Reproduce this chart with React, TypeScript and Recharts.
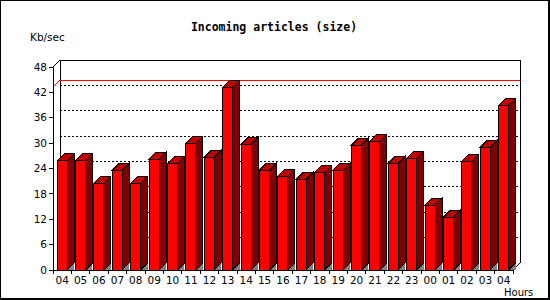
import React from 'react';
import { BarChart, Bar, XAxis, YAxis, ReferenceLine, ReferenceArea } from 'recharts';

const hours = ['04','05','06','07','08','09','10','11','12','13','14','15','16','17','18','19','20','21','22','23','00','01','02','03','04'];
const sizeKb = [25.8,25.8,20.5,23.6,20.5,26.2,25.2,30.0,26.6,43.2,29.7,23.6,22.2,21.4,23.1,23.6,29.5,30.4,25.2,26.4,15.3,12.5,25.7,29.0,38.9];
const yTicks = [0,6,12,18,24,30,36,42,48];
const gridValues = [6,12,18,24,30,36,42];

const data = hours.map((h, i) => ({ hour: h, value: sizeKb[i] }));
const maxValue = Math.max(...sizeKb);

const W = 550;
const H = 300;
const MARGIN = { top: 67, right: 37, bottom: 0, left: 13 };
const Y_AXIS_W = 40;
const X_AXIS_H = 30;
const PLOT_W = W - MARGIN.left - MARGIN.right - Y_AXIS_W;
const HALF_BAND = PLOT_W / hours.length / 2;
const DX = 7;
const DY = 7;
const FONT = '"DejaVu Sans", sans-serif';

const Bar3D = (props: any) => {
  const { x, y, width, height } = props;
  if (height == null || width == null) return null;
  const b = y + height;
  return (
    <g>
      <polygon points={`${x + width},${b} ${x + width + DX},${b - DY} ${x + width + DX},${b}`} fill="#808080" />
      <rect x={x} y={y} width={width} height={height} fill="#ff0000" stroke="#000" strokeWidth={1} />
      <polygon points={`${x},${y} ${x + DX},${y - DY} ${x + width + DX},${y - DY} ${x + width},${y}`} fill="#c00000" stroke="#000" strokeWidth={1} strokeLinejoin="miter" />
      <polygon points={`${x + width},${y} ${x + width + DX},${y - DY} ${x + width + DX},${b - DY} ${x + width},${b}`} fill="#800000" stroke="#000" strokeWidth={1} />
    </g>
  );
};

const BackWall = (props: any) => {
  const { x, y, width, height } = props;
  const b = y + height;
  return (
    <g>
      <path
        d={`M${x + DX},${b - DY} L${x + DX},${y - DY} L${x + width + DX},${y - DY} L${x + width + DX},${b - DY} L${x + width},${b}`}
        fill="none" stroke="#000" strokeWidth={1}
      />
      <path d={`M${x},${y} L${x + DX},${y - DY}`} fill="none" stroke="#000" strokeWidth={1} />
    </g>
  );
};

const GridLine = (props: any) => {
  const { x1, y1, x2 } = props;
  if (x1 == null) return null;
  return <line x1={x1 + DX} y1={y1 - DY} x2={x2 + DX} y2={y1 - DY} stroke="#000" strokeWidth={1} strokeDasharray="2 2" />;
};

const MaxLine = (props: any) => {
  const { x1, y1, x2 } = props;
  if (x1 == null) return null;
  return <path d={`M${x1},${y1} L${x1 + DX},${y1 - DY} L${x2 + DX},${y1 - DY}`} fill="none" stroke="#ff0000" strokeWidth={1} />;
};

const XTick = (props: any) => {
  const { x, y, payload, index } = props;
  const isLast = index === hours.length - 1;
  return (
    <g>
      <line x1={x - HALF_BAND} x2={x - HALF_BAND} y1={y - 4} y2={y} stroke="#000" />
      {isLast && <line x1={x + HALF_BAND} x2={x + HALF_BAND} y1={y - 4} y2={y} stroke="#000" />}
      <text x={x} y={y + 6} textAnchor="middle" dominantBaseline="central" fontSize={10.5} fontFamily={FONT} fill="#000">
        {payload.value}
      </text>
    </g>
  );
};

export default function App() {
  return (
    <div style={{ position: 'absolute', left: 0, top: 0, width: W, height: H, background: '#fff' }}>
      <div style={{ position: 'absolute', left: 0, top: 0, width: W, height: H, boxSizing: 'border-box', borderStyle: 'solid', borderColor: '#000', borderWidth: '1px 2px 2px 1px' }} />
      <div style={{ position: 'absolute', left: 0, width: W - 2, top: 19, textAlign: 'center', fontFamily: '"DejaVu Sans Mono", monospace', fontWeight: 'bold', fontSize: 11.5, lineHeight: '16px', color: '#000' }}>
        Incoming articles (size)
      </div>
      <div style={{ position: 'absolute', left: 30, top: 30, fontFamily: FONT, fontSize: 10.5, lineHeight: '14px', color: '#000' }}>Kb/sec</div>
      <div style={{ position: 'absolute', left: 504, top: 286, fontFamily: FONT, fontSize: 10, lineHeight: '14px', color: '#000' }}>Hours</div>
      <div style={{ position: 'absolute', left: 0, top: 0 }}>
        <BarChart width={W} height={H} data={data} margin={MARGIN} style={{ shapeRendering: 'crispEdges' }}>
          <XAxis
            dataKey="hour"
            height={X_AXIS_H}
            axisLine={{ stroke: '#000' }}
            tickLine={false}
            tickSize={4}
            tickMargin={0}
            interval={0}
            tick={<XTick />}
          />
          <YAxis
            width={Y_AXIS_W}
            domain={[0, 48]}
            ticks={yTicks}
            interval={0}
            axisLine={{ stroke: '#000' }}
            tickLine={{ stroke: '#000' }}
            tickSize={4}
            tickMargin={2}
            tick={{ fontSize: 10.5, fontFamily: FONT, fill: '#000' }}
          />
          <ReferenceArea y1={0} y2={48} shape={<BackWall />} ifOverflow="visible" zIndex={-20} />
          {gridValues.map((v) => (
            <ReferenceLine key={v} y={v} shape={<GridLine />} ifOverflow="visible" zIndex={-20} />
          ))}
          <ReferenceLine y={maxValue} shape={<MaxLine />} ifOverflow="visible" zIndex={-20} />
          <Bar dataKey="value" barSize={10} shape={<Bar3D />} isAnimationActive={false} />
        </BarChart>
      </div>
    </div>
  );
}
